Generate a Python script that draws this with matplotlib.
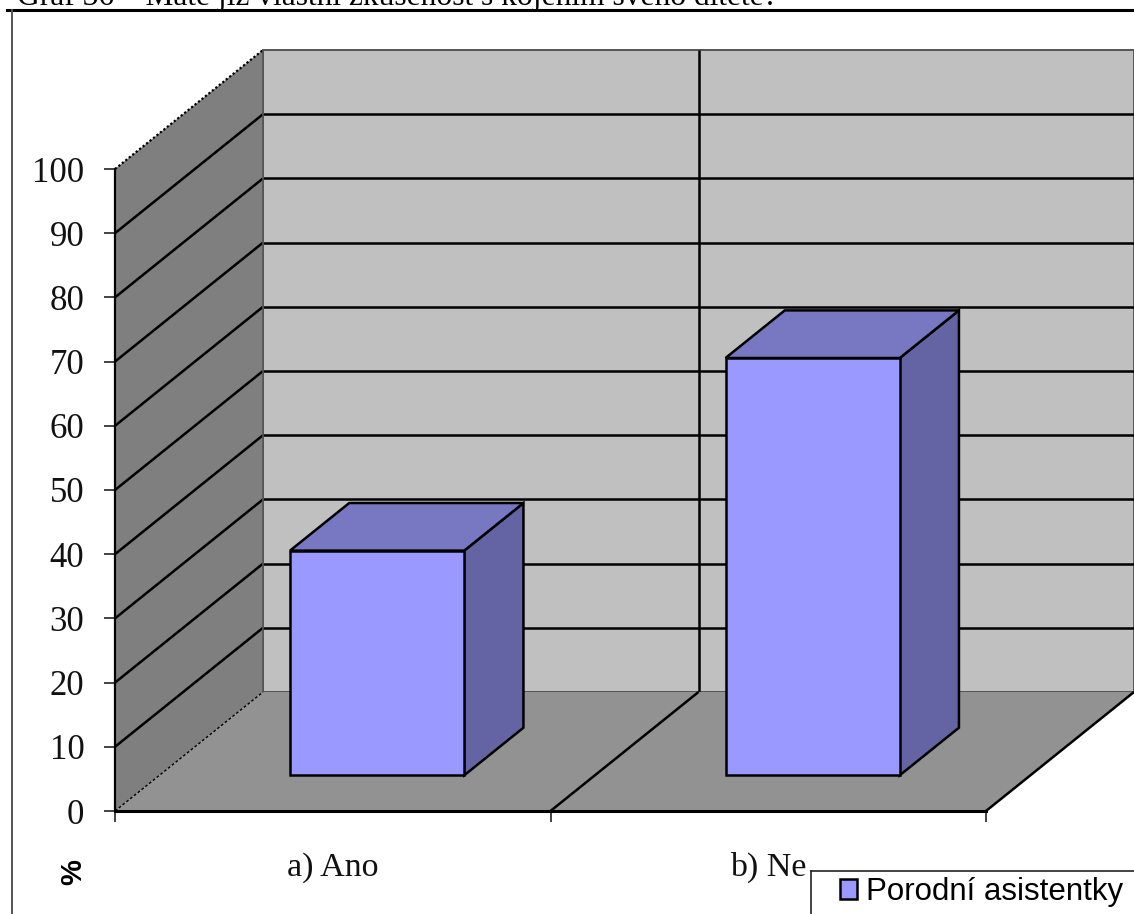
import matplotlib
matplotlib.use('Agg')
import matplotlib.pyplot as plt
from matplotlib.patches import Polygon, Patch

categories = ['a) Ano', 'b) Ne']
values = [35, 65]
series_name = 'Porodní asistentky'
y_ticks = [0, 10, 20, 30, 40, 50, 60, 70, 80, 90, 100]
title_text = 'Graf 36 – Máte již vlastní zkušenost s kojením svého dítěte?'

W, H = 1134, 914

# how far the back wall is shifted from the front plane, in data units
DEPTH_X = 148 / 435.5
DEPTH_Y = 119 / 6.42
BAR_WIDTH = 0.4
BAR_FRONT = 0.3
BAR_BACK = 0.7

WALL = '#c0c0c0'
SIDE_WALL = '#7f7f7f'
FLOOR = '#929292'
BAR_FACE = '#9999ff'
BAR_TOP = '#7777c2'
BAR_SIDE = '#6464a4'


def proj(x, v, d=0.0):
    return (x + d * DEPTH_X, v + d * DEPTH_Y)


def face(ax, pts, color, zorder, lw=1.8, edge='black'):
    ax.add_patch(Polygon(pts, closed=True, facecolor=color, edgecolor=edge,
                         linewidth=lw, zorder=zorder, clip_on=False,
                         joinstyle='miter'))


def line(ax, a, b, zorder=2, lw=1.8, color='black', ls='-'):
    ax.plot([a[0], b[0]], [a[1], b[1]], color=color, lw=lw, ls=ls,
            zorder=zorder, clip_on=False, solid_capstyle='butt')


def draw_box(ax, center, value):
    x0 = center - BAR_WIDTH / 2
    x1 = center + BAR_WIDTH / 2
    f, b = BAR_FRONT, BAR_BACK
    face(ax, [proj(x1, 0, f), proj(x1, 0, b), proj(x1, value, b), proj(x1, value, f)], BAR_SIDE, 5)
    face(ax, [proj(x0, value, f), proj(x1, value, f), proj(x1, value, b), proj(x0, value, b)], BAR_TOP, 5)
    face(ax, [proj(x0, 0, f), proj(x1, 0, f), proj(x1, value, f), proj(x0, value, f)], BAR_FACE, 6)


fig = plt.figure(figsize=(W / 100, H / 100), dpi=100)
ax = fig.add_axes([115 / W, 1 - 811 / H, 871 / W, 642 / H])
ax.set_xlim(0, len(categories))
ax.set_ylim(0, 100)

n = len(categories)

# walls and floor
face(ax, [proj(0, 0, 1), proj(n, 0, 1), proj(n, 100, 1), proj(0, 100, 1)], WALL, 1, lw=1.4, edge='#555555')
face(ax, [proj(0, 0), proj(0, 0, 1), proj(0, 100, 1), proj(0, 100)], SIDE_WALL, 1, lw=0)
face(ax, [proj(0, 0), proj(n, 0), proj(n, 0, 1), proj(0, 0, 1)], FLOOR, 3, lw=0)

# gridlines running along the side and the back wall
for t in y_ticks[1:-1]:
    line(ax, proj(0, t), proj(0, t, 1))
    line(ax, proj(0, t, 1), proj(n, t, 1))
for i in range(1, n):
    line(ax, proj(i, 0, 1), proj(i, 100, 1))
    line(ax, proj(i, 0), proj(i, 0, 1), zorder=4)

# outlines of the side wall and floor
line(ax, proj(0, 100), proj(0, 100, 1), ls=(0, (1, 1)), lw=1.6)
line(ax, proj(0, 0), proj(0, 0, 1), zorder=4, ls=(0, (2, 1.5)), lw=1.0)
line(ax, proj(0, 0, 1), proj(0, 100, 1), lw=1.2, color='#555555')
line(ax, proj(n, 0), proj(n, 0, 1), zorder=4)
line(ax, proj(0, 0, 1), proj(n, 0, 1), zorder=2, lw=1.0, color='#555555')

for i, v in enumerate(values):
    draw_box(ax, i + 0.5, v)

for s in ['top', 'right']:
    ax.spines[s].set_visible(False)
ax.spines['left'].set_linewidth(1.6)
ax.spines['bottom'].set_linewidth(2.2)
ax.spines['left'].set_zorder(7)
ax.spines['bottom'].set_zorder(7)

ax.set_yticks(y_ticks)
ax.set_yticklabels([str(t) for t in y_ticks], family='Liberation Serif', fontsize=25, color='#111111')
ax.set_xticks(range(n + 1))
ax.set_xticklabels([])
ax.tick_params(axis='both', length=8, width=1.2, color='#222222', pad=14)
ax.patch.set_alpha(0)

for i, c in enumerate(categories):
    ax.annotate(c, (i + 0.5, 0), xytext=(0, -41), textcoords='offset pixels', ha='center',
                va='top', family='Liberation Serif', fontsize=24.5, color='#111111')

fig.text(73 / W, 1 - 872 / H, '%', rotation=90, ha='center', va='center',
         family='Liberation Sans', fontsize=21, fontweight='bold')

# page furniture around the chart
fig.add_artist(plt.Line2D([7 / W, 1], [1 - 10 / H] * 2, color='black', lw=2.2))
fig.add_artist(plt.Line2D([12 / W, 12 / W], [0, 1 - 10 / H], color='#555555', lw=1.4))
fig.text(17 / W, 1 - 5 / H, title_text, ha='left', va='baseline',
         family='Liberation Serif', fontsize=22.7)

# legend box runs past the right and bottom edges, so only two sides are drawn
fig.add_artist(plt.Line2D([811 / W, 1], [1 - 871 / H] * 2, color='#222222', lw=1.2))
fig.add_artist(plt.Line2D([811 / W, 811 / W], [0, 1 - 871 / H], color='#222222', lw=1.2))
leg = fig.legend(handles=[Patch(facecolor=BAR_FACE, edgecolor='black', linewidth=1.8, label=series_name)],
                 loc='upper left', bbox_to_anchor=(840 / W, 1 - 877 / H), frameon=False,
                 prop={'family': 'Liberation Sans', 'size': 22.5},
                 handlelength=0.55, handleheight=0.62, handletextpad=0.28,
                 borderpad=0, borderaxespad=0, labelspacing=0)
leg.set_zorder(10)

fig.savefig('out.png', dpi=100)
